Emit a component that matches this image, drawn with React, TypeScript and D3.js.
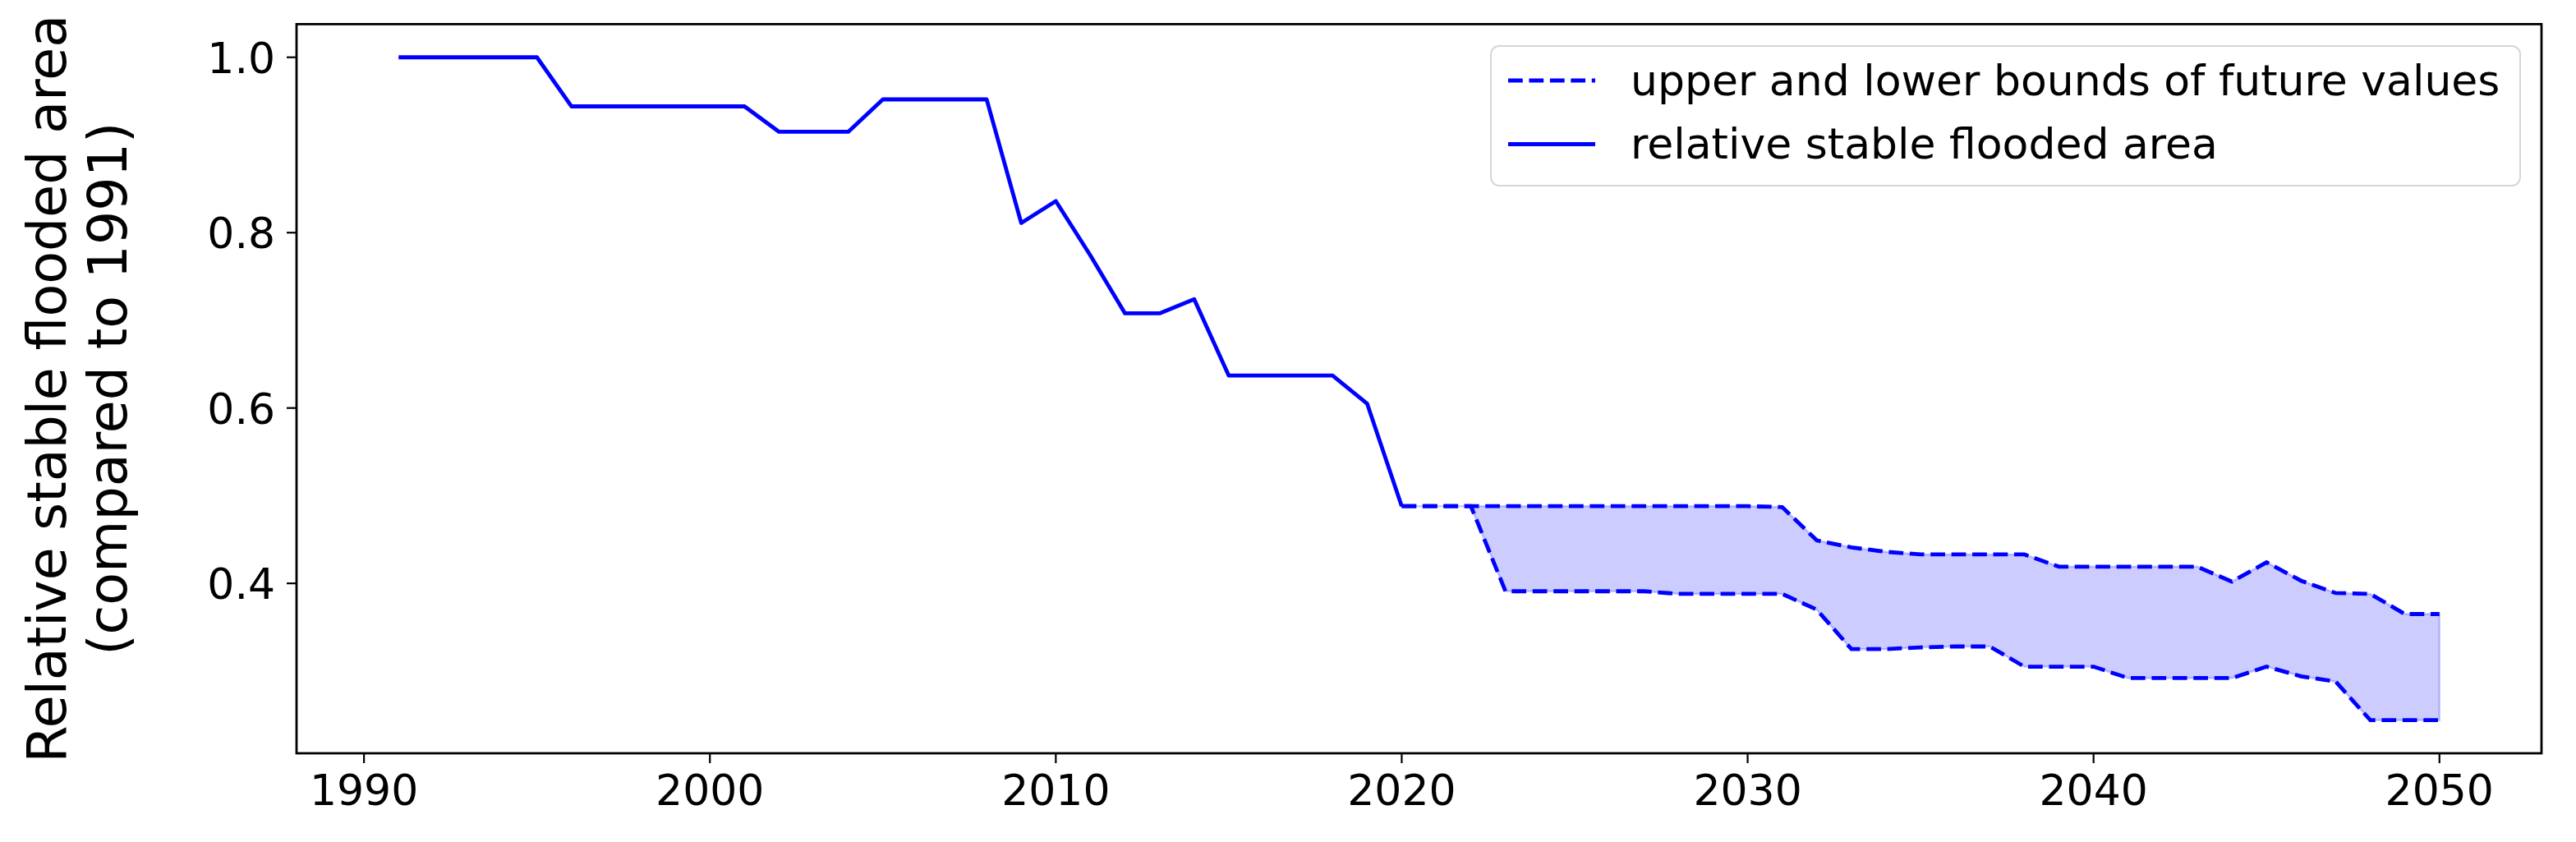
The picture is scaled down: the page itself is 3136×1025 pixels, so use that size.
import React from "react";
import * as d3 from "d3";

const histYears = [1991,1992,1993,1994,1995,1996,1997,1998,1999,2000,2001,2002,2003,2004,2005,2006,2007,2008,2009,2010,2011,2012,2013,2014,2015,2016,2017,2018,2019,2020];
const histValues = [1.0,1.0,1.0,1.0,1.0,0.944,0.944,0.944,0.944,0.944,0.944,0.915,0.915,0.915,0.952,0.952,0.952,0.952,0.811,0.836,0.774,0.708,0.708,0.724,0.637,0.637,0.637,0.637,0.605,0.488];

const futureYears = [2020,2021,2022,2023,2024,2025,2026,2027,2028,2029,2030,2031,2032,2033,2034,2035,2036,2037,2038,2039,2040,2041,2042,2043,2044,2045,2046,2047,2048,2049,2050];
const upperValues = [0.488,0.488,0.488,0.488,0.488,0.488,0.488,0.488,0.488,0.488,0.488,0.487,0.449,0.441,0.436,0.433,0.433,0.433,0.433,0.419,0.419,0.419,0.419,0.419,0.402,0.424,0.403,0.389,0.388,0.365,0.365];
const lowerValues = [0.488,0.488,0.488,0.391,0.391,0.391,0.391,0.391,0.388,0.388,0.388,0.388,0.370,0.325,0.325,0.327,0.328,0.328,0.305,0.305,0.305,0.292,0.292,0.292,0.292,0.305,0.294,0.288,0.244,0.244,0.244];

const xTicks = [1990, 2000, 2010, 2020, 2030, 2040, 2050];
const yTicks = [0.4, 0.6, 0.8, 1.0];
const legendLabels = ["upper and lower bounds of future values", "relative stable flooded area"];
const yLabelLines = ["Relative stable flooded area", "(compared to 1991)"];

const W = 3136, H = 1025;
const L = 361, R = 3094, T = 29.4, B = 917;
const FONT = "DejaVu Sans";
const FS = 52;
const LABEL_FS = 65;
const BLUE = "#0000ff";

export default function App() {
  const allX = [...histYears, ...futureYears];
  const xMin = d3.min(allX)!, xMax = d3.max(allX)!;
  const xm = (xMax - xMin) * 0.05;
  const allY = [...histValues, ...upperValues, ...lowerValues];
  const yMin = d3.min(allY)!, yMax = d3.max(allY)!;
  const ym = (yMax - yMin) * 0.05;
  const x = d3.scaleLinear().domain([xMin - xm, xMax + xm]).range([L, R]);
  const y = d3.scaleLinear().domain([yMin - ym, yMax + ym]).range([B, T]);

  const hist = histYears.map((yr, i) => [yr, histValues[i]] as [number, number]);
  const up = futureYears.map((yr, i) => [yr, upperValues[i]] as [number, number]);
  const lo = futureYears.map((yr, i) => [yr, lowerValues[i]] as [number, number]);
  const line = d3.line<[number, number]>().x(d => x(d[0])).y(d => y(d[1]));
  const area = d3.area<number>()
    .x((_, i) => x(futureYears[i]))
    .y0((_, i) => y(lowerValues[i]))
    .y1((_, i) => y(upperValues[i]));

  const lw = 4.8;
  const dash = `${3.7 * lw} ${1.6 * lw}`;

  return (
    <svg width={W} height={H} style={{ position: "absolute", left: 0, top: 0, background: "#fff" }} fontFamily={FONT}>
      <rect x={0} y={0} width={W} height={H} fill="#fff" />
      <path d={area(futureYears)!} fill="rgba(0,0,255,0.2)" stroke="rgba(0,0,255,0.2)" strokeWidth={2.5} />
      <path d={line(up)!} fill="none" stroke={BLUE} strokeWidth={lw} strokeDasharray={dash} />
      <path d={line(lo)!} fill="none" stroke={BLUE} strokeWidth={lw} strokeDasharray={dash} />
      <path d={line(hist)!} fill="none" stroke={BLUE} strokeWidth={lw} strokeLinejoin="round" />

      <rect x={L} y={T} width={R - L} height={B - T} fill="none" stroke="#000" strokeWidth={2.8} />

      {xTicks.map(t => (
        <g key={"x" + t}>
          <line x1={x(t)} x2={x(t)} y1={B} y2={B + 12} stroke="#000" strokeWidth={2.2} />
          <text x={x(t)} y={B + 63} textAnchor="middle" fontSize={FS}>{t}</text>
        </g>
      ))}
      {yTicks.map(t => (
        <g key={"y" + t}>
          <line x1={L - 12} x2={L} y1={y(t)} y2={y(t)} stroke="#000" strokeWidth={2.2} />
          <text x={L - 26} y={y(t) + 19} textAnchor="end" fontSize={FS}>{t.toFixed(1)}</text>
        </g>
      ))}

      {yLabelLines.map((s, i) => (
        <text key={s} transform={`translate(${80 + i * 74},${(T + B) / 2}) rotate(-90)`} textAnchor="middle" fontSize={LABEL_FS}>{s}</text>
      ))}

      <rect x={1815} y={56} width={3068 - 1815} height={226 - 56} rx={10} ry={10} fill="rgba(255,255,255,0.8)" stroke="#d6d6d6" strokeWidth={2} />
      <line x1={1836} x2={1942} y1={98} y2={98} stroke={BLUE} strokeWidth={lw} strokeDasharray={dash} />
      <line x1={1836} x2={1942} y1={175.5} y2={175.5} stroke={BLUE} strokeWidth={lw} />
      <text x={1985} y={116} fontSize={FS}>{legendLabels[0]}</text>
      <text x={1985} y={193} fontSize={FS}>{legendLabels[1]}</text>
    </svg>
  );
}
